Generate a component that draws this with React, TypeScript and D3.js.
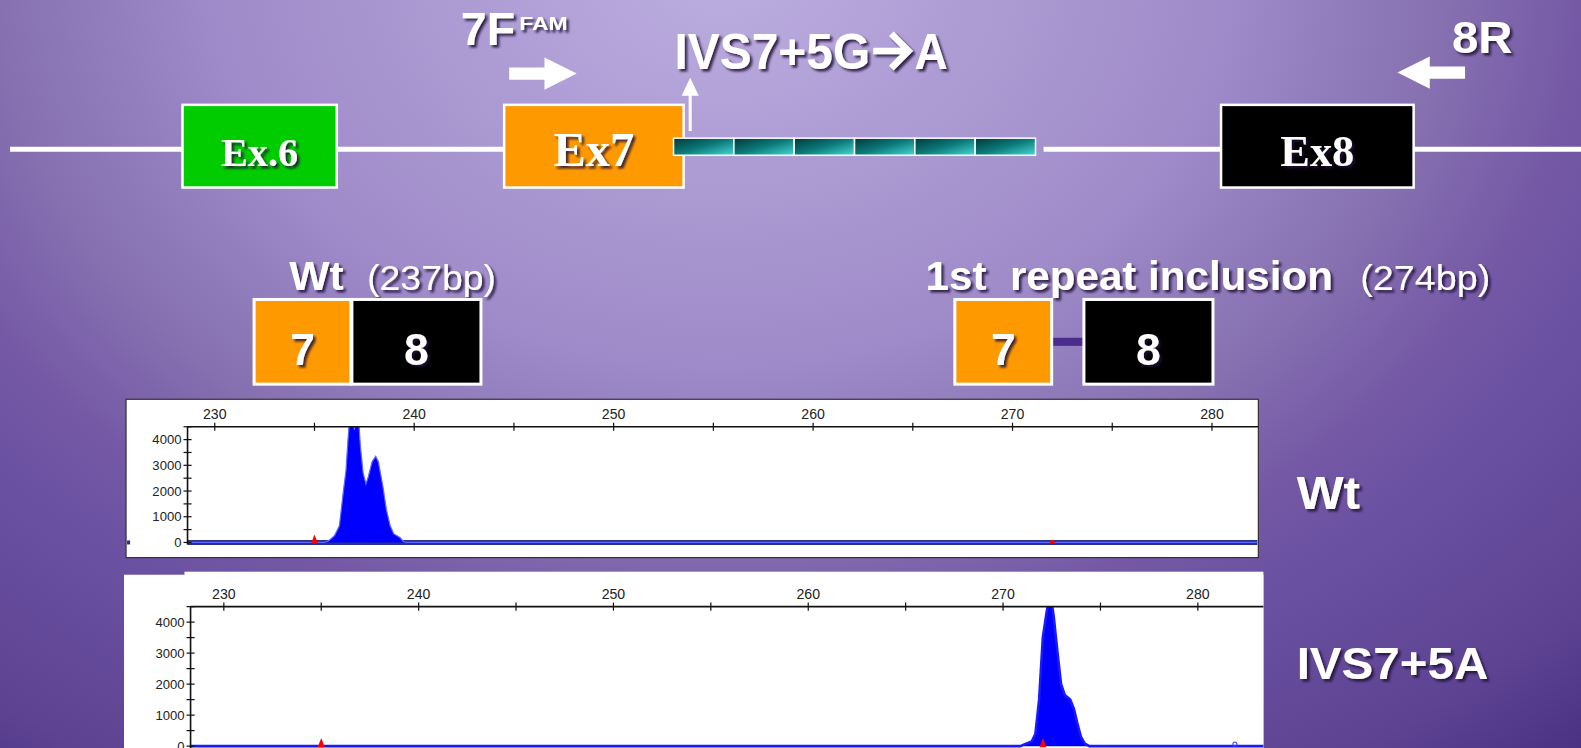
import * as d3 from 'd3'
import { useEffect, useRef } from 'react'

// ---- data ----
// fragment size axis (bp) and fluorescence axis (RFU)
const sizeLabels = [230, 240, 250, 260, 270, 280]
const sizeMinorTicks = [230, 235, 240, 245, 250, 255, 260, 265, 270, 275, 280]
const rfuLabels = [0, 1000, 2000, 3000, 4000]
const rfuMinorTicks = [0, 500, 1000, 1500, 2000, 2500, 3000, 3500, 4000, 4500]

// electropherogram traces: [size bp, RFU]
const wtTrace: [number, number][] = [
  [228.6, 0], [235.5, 0], [235.7, 60], [236.0, 260], [236.25, 650], [236.45, 2000],
  [236.58, 2800], [236.68, 4000], [236.75, 4700], [236.95, 4700], [237.0, 4380],
  [237.08, 4700], [237.22, 4700], [237.3, 3750], [237.44, 2700], [237.58, 2270],
  [237.7, 2560], [237.89, 3140], [238.07, 3350], [238.2, 3140], [238.43, 2180],
  [238.6, 1300], [238.79, 660], [238.97, 340], [239.3, 180], [239.45, 40], [239.6, 0],
  [282.3, 0],
]
const mutTrace: [number, number][] = [
  [228.3, 0], [270.9, 0], [271.0, 30], [271.47, 150], [271.66, 400], [271.85, 1500],
  [272.04, 3500], [272.23, 4300], [272.35, 4700], [272.48, 4700], [272.6, 4200],
  [272.8, 3000], [272.98, 2000], [273.17, 1650], [273.45, 1500], [273.64, 1200],
  [273.83, 700], [274.0, 300], [274.2, 80], [274.43, 0], [283.5, 0],
]
// size-standard markers (red) and stray blue marks
const wtStdMarks = [235, 272]
const mutStdMarks = [235, 272.05]
const mutBlueMarks = [281.9]

// gene schematic
const exonNames = ['Ex.6', 'Ex7', 'Ex8']
const repeatUnits = ['r1', 'r2', 'r3', 'r4', 'r5', 'r6']
const wtFragment = { label: 'Wt', size: '(237bp)', exons: ['7', '8'] }
const repFragment = { label: '1st  repeat inclusion', size: '(274bp)', exons: ['7', '8'] }
const sampleLabels = ['Wt', 'IVS7+5A']

// drawing space (the reference was read at this width)
const VW = 1568
const VH = 741.85
const BOLD = "'Liberation Sans', Arial, sans-serif"
const SERIF = "'Liberation Serif', 'Times New Roman', serif"

const App = () => {
  const svgRef = useRef<SVGSVGElement>(null)

  useEffect(() => {
    document.body.style.margin = '0'
    const svg = d3.select(svgRef.current)
    svg.selectAll('*').remove()
    draw(svg as any)
  }, [])

  return (
    <svg
      ref={svgRef}
      width={1581}
      height={748}
      viewBox={`0 0 ${VW} ${VH}`}
      preserveAspectRatio='none'
      style={{ display: 'block' }}
    />
  )
}

function draw(svg: d3.Selection<SVGSVGElement, unknown, null, undefined>) {
  const defs = svg.append('defs')

  // background: elliptical glow from the top centre
  const bg = defs
    .append('radialGradient')
    .attr('id', 'bg')
    .attr('gradientUnits', 'userSpaceOnUse')
    .attr('cx', 715)
    .attr('cy', -30)
    .attr('r', 1310)
    .attr('gradientTransform', 'translate(715,-30) scale(1,0.773) translate(-715,30)')
  const bgStops: [number, string][] = [
    [0, '#bcaee0'],
    [0.39, '#9e8ac8'],
    [0.55, '#8670b0'],
    [0.65, '#7559a6'],
    [0.72, '#6c52a2'],
    [0.9, '#5d4392'],
    [1, '#4c3283'],
  ]
  bgStops.forEach(([o, c]) => bg.append('stop').attr('offset', o).attr('stop-color', c))

  const rep = defs
    .append('linearGradient')
    .attr('id', 'rep')
    .attr('x1', 0)
    .attr('y1', 0)
    .attr('x2', 1)
    .attr('y2', 1)
  rep.append('stop').attr('offset', 0).attr('stop-color', '#003838')
  rep.append('stop').attr('offset', 0.5).attr('stop-color', '#0c7a7a')
  rep.append('stop').attr('offset', 1).attr('stop-color', '#48d8d8')

  const shadow = defs.append('filter').attr('id', 'sh').attr('x', '-10%').attr('y', '-20%').attr('width', '130%').attr('height', '160%')
  shadow
    .append('feDropShadow')
    .attr('dx', 2.5)
    .attr('dy', 2.5)
    .attr('stdDeviation', 1.2)
    .attr('flood-color', '#1c1034')
    .attr('flood-opacity', 0.85)

  svg.append('rect').attr('width', VW).attr('height', VH).attr('fill', 'url(#bg)')

  // ---- gene schematic ----
  const lineY = 148
  const introns: [number, number][] = [[10, 181], [334, 500], [1035, 1211], [1402, 1570]]
  svg
    .append('g')
    .selectAll('line')
    .data(introns)
    .join('line')
    .attr('x1', (d) => d[0])
    .attr('x2', (d) => d[1])
    .attr('y1', lineY)
    .attr('y2', lineY)
    .attr('stroke', '#fff')
    .attr('stroke-width', 5)

  const exonLayout = [
    { x0: 181, x1: 334, fill: '#00cc00', fs: 40 },
    { x0: 500, x1: 678, fill: '#ff9900', fs: 48 },
    { x0: 1211, x1: 1402, fill: '#000000', fs: 44 },
  ]
  const exG = svg.append('g')
  exonNames.forEach((name, i) => {
    const l = exonLayout[i]
    exG
      .append('rect')
      .attr('x', l.x0)
      .attr('y', 104)
      .attr('width', l.x1 - l.x0)
      .attr('height', 82)
      .attr('fill', l.fill)
      .attr('stroke', '#fff')
      .attr('stroke-width', 2.5)
    exG
      .append('text')
      .attr('x', (l.x0 + l.x1) / 2)
      .attr('y', 165)
      .attr('text-anchor', 'middle')
      .attr('font-family', SERIF)
      .attr('font-weight', 'bold')
      .attr('font-size', l.fs)
      .attr('fill', '#fff')
      .attr('filter', 'url(#sh)')
      .text(name)
  })

  // intronic repeats
  const repScale = d3.scaleBand<string>().domain(repeatUnits).range([668, 1027])
  svg
    .append('g')
    .selectAll('rect')
    .data(repeatUnits)
    .join('rect')
    .attr('x', (d) => repScale(d) as number)
    .attr('y', 137)
    .attr('width', repScale.bandwidth())
    .attr('height', 17)
    .attr('fill', 'url(#rep)')
    .attr('stroke', '#fff')
    .attr('stroke-width', 1.5)

  // primers + mutation arrow
  const arrows = svg.append('g').attr('fill', '#fff')
  arrows.append('path').attr('d', 'M505,67H540V57L572,73L540,89V79H505Z')
  arrows.append('path').attr('d', 'M1453,66H1418V56L1386,72L1418,88V78H1453Z')
  arrows.append('path').attr('d', 'M683,130V95H676L684.5,77L693,95H686V130Z')

  const txt = (
    x: number,
    y: number,
    s: string,
    fs: number,
    opts: { weight?: string; len?: number; anchor?: string; family?: string } = {}
  ) => {
    const t = svg
      .append('text')
      .attr('x', x)
      .attr('y', y)
      .attr('font-family', opts.family ?? BOLD)
      .attr('font-weight', opts.weight ?? 'bold')
      .attr('font-size', fs)
      .attr('fill', '#fff')
      .attr('text-anchor', opts.anchor ?? 'start')
      .attr('filter', 'url(#sh)')
      .style('white-space', 'pre')
      .text(s)
    if (opts.len) t.attr('textLength', opts.len).attr('lengthAdjust', 'spacingAndGlyphs')
    return t
  }

  txt(457, 45, '7F', 46, { len: 54 })
  txt(515, 30, 'FAM', 18, { len: 48 })
  txt(669, 68.5, 'IVS7+5G', 50, { len: 194 })
  svg
    .append('path')
    .attr('d', 'M866,50.5H900M884,33.5L901,50.5L884,67.5')
    .attr('fill', 'none')
    .attr('stroke', '#fff')
    .attr('stroke-width', 6.5)
    .attr('filter', 'url(#sh)')
  txt(907, 68.5, 'A', 50, { len: 33 })
  txt(1440, 53, '8R', 44, { len: 60 })

  // ---- fragment diagrams ----
  const fragLayout = [
    { frag: wtFragment, labelX: 287, labelLen: 54, sizeX: 364, sizeLen: 128, boxes: [[252, 348], [349, 477]] as [number, number][] },
    { frag: repFragment, labelX: 918, labelLen: 404, sizeX: 1349, sizeLen: 129, boxes: [[947, 1043], [1075, 1203]] as [number, number][] },
  ]
  fragLayout.forEach((f, fi) => {
    txt(f.labelX, 288, f.frag.label, 40, { len: f.labelLen })
    txt(f.sizeX, 288, f.frag.size, 34, { weight: 'normal', len: f.sizeLen })
    if (fi === 1) {
      svg
        .append('rect')
        .attr('x', f.boxes[0][1])
        .attr('y', 335)
        .attr('width', f.boxes[1][0] - f.boxes[0][1])
        .attr('height', 8)
        .attr('fill', '#4b2c8c')
    }
    f.frag.exons.forEach((e, i) => {
      const [x0, x1] = f.boxes[i]
      svg
        .append('rect')
        .attr('x', x0)
        .attr('y', 297)
        .attr('width', x1 - x0)
        .attr('height', 84)
        .attr('fill', i === 0 ? '#ff9900' : '#000')
        .attr('stroke', '#fff')
        .attr('stroke-width', 3)
      txt((x0 + x1) / 2, 362, e, 44, { anchor: 'middle' })
    })
  })

  // ---- electropherograms ----
  const panels = [
    {
      id: 'p1',
      trace: wtTrace,
      std: wtStdMarks,
      blue: [] as number[],
      box: { x: 125, y: 396, w: 1123, h: 157 },
      axisX: 186,
      xRange: [213, 1202],
      yRange: [538, 436],
      thickBase: true,
      label: sampleLabels[0],
      labelY: 505,
      labelFs: 46,
      labelLen: 63,
    },
    {
      id: 'p2',
      trace: mutTrace,
      std: mutStdMarks,
      blue: mutBlueMarks,
      box: { x: 123, y: 567, w: 1130, h: 180 },
      axisX: 189,
      xRange: [222, 1188],
      yRange: [740, 617],
      thickBase: false,
      label: sampleLabels[1],
      labelY: 673,
      labelFs: 44,
      labelLen: 190,
    },
  ]

  panels.forEach((p) => {
    const g = svg.append('g')
    const right = p.box.x + p.box.w
    const x = d3.scaleLinear().domain([230, 280]).range(p.xRange)
    const y = d3.scaleLinear().domain([0, 4000]).range(p.yRange)
    const top = y(4500)

    if (p.id === 'p2') {
      g.append('rect').attr('x', p.box.x).attr('y', p.box.y + 3).attr('width', p.box.w).attr('height', p.box.h).attr('fill', '#fff')
      g.append('rect').attr('x', 183).attr('y', p.box.y).attr('width', right - 183).attr('height', p.box.h).attr('fill', '#fff')
    } else {
      g.append('rect')
        .attr('x', p.box.x)
        .attr('y', p.box.y)
        .attr('width', p.box.w)
        .attr('height', p.box.h)
        .attr('fill', '#fff')
        .attr('stroke', '#333')
        .attr('stroke-width', 1.2)
    }

    defs
      .append('clipPath')
      .attr('id', `clip-${p.id}`)
      .append('rect')
      .attr('x', p.axisX)
      .attr('y', top)
      .attr('width', right - p.axisX)
      .attr('height', p.box.y + p.box.h - top)

    // baseline
    if (p.thickBase) {
      g.append('line')
        .attr('x1', p.axisX)
        .attr('x2', right - 1)
        .attr('y1', y(0))
        .attr('y2', y(0))
        .attr('stroke', '#29308e')
        .attr('stroke-width', 5)
      g.append('line')
        .attr('x1', p.box.x + 1)
        .attr('x2', p.box.x + 4)
        .attr('y1', y(0))
        .attr('y2', y(0))
        .attr('stroke', '#29308e')
        .attr('stroke-width', 4)
    }

    const area = d3
      .area<[number, number]>()
      .x((d) => x(d[0]))
      .y0(y(0))
      .y1((d) => y(d[1]))
    const line = d3
      .line<[number, number]>()
      .x((d) => x(d[0]))
      .y((d) => y(d[1]))

    const plot = g.append('g').attr('clip-path', `url(#clip-${p.id})`)
    plot.append('path').datum(p.trace).attr('d', area).attr('fill', '#0000ff')
    plot
      .append('path')
      .datum(p.trace)
      .attr('d', line)
      .attr('fill', 'none')
      .attr('stroke', p.thickBase ? '#5f66ff' : '#1a1aff')
      .attr('stroke-width', p.thickBase ? 1.2 : 2.5)

    // size standard markers
    g.selectAll('.std')
      .data(p.std)
      .join('path')
      .attr('d', (d, i) => {
        const h = p.thickBase && i === 1 ? 3 : 8
        return `M${x(d) - 3.5},${y(0) + 1}L${x(d)},${y(0) - h}L${x(d) + 3.5},${y(0) + 1}Z`
      })
      .attr('fill', '#ff0000')
    g.selectAll('.bl')
      .data(p.blue)
      .join('circle')
      .attr('cx', (d) => x(d))
      .attr('cy', y(0) - 2)
      .attr('r', 2)
      .attr('fill', 'none')
      .attr('stroke', '#3344ff')

    // top size axis
    const ax = g.append('g').attr('stroke', '#111').attr('stroke-width', 1.2)
    ax.append('line').attr('x1', p.axisX).attr('x2', right).attr('y1', top).attr('y2', top).attr('stroke-width', 1.6)
    ax.selectAll('.xt')
      .data(sizeMinorTicks)
      .join('line')
      .attr('x1', (d) => x(d))
      .attr('x2', (d) => x(d))
      .attr('y1', top - 4)
      .attr('y2', top + 4)
    g.selectAll('.xl')
      .data(sizeLabels)
      .join('text')
      .attr('x', (d) => x(d))
      .attr('y', top - 8)
      .attr('text-anchor', 'middle')
      .attr('font-family', "'Liberation Sans', Arial, sans-serif")
      .attr('font-size', 14)
      .attr('fill', '#222')
      .text((d) => d)

    // left RFU axis
    ax.append('line').attr('x1', p.axisX).attr('x2', p.axisX).attr('y1', top).attr('y2', y(0) + 2).attr('stroke-width', 1.6)
    ax.selectAll('.yt')
      .data(rfuMinorTicks)
      .join('line')
      .attr('x1', p.axisX - 4)
      .attr('x2', p.axisX + 4)
      .attr('y1', (d) => y(d))
      .attr('y2', (d) => y(d))
    g.selectAll('.yl')
      .data(rfuLabels)
      .join('text')
      .attr('x', p.axisX - 6)
      .attr('y', (d) => y(d))
      .attr('dy', '0.36em')
      .attr('text-anchor', 'end')
      .attr('font-family', "'Liberation Sans', Arial, sans-serif")
      .attr('font-size', 13)
      .attr('fill', '#222')
      .text((d) => d)

    txt(1286, p.labelY, p.label, p.labelFs, { len: p.labelLen })
  })
}

export default App
